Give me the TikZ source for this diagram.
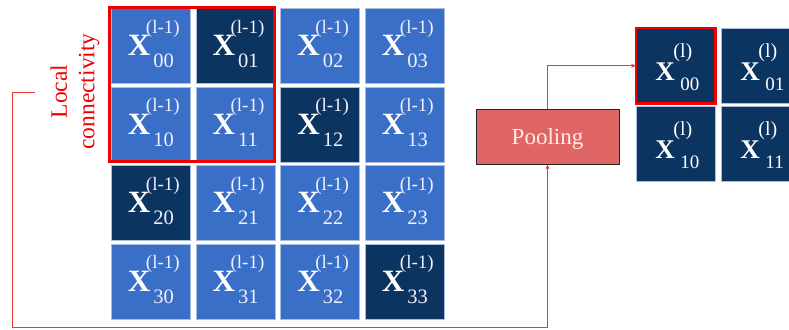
\documentclass[tikz,border=0pt]{standalone}
\usepackage{fontspec}
\setmainfont{Liberation Serif}
\usetikzlibrary{calc,arrows.meta}
\definecolor{lb}{HTML}{3A6FC7}
\definecolor{db}{HTML}{0B3560}
\definecolor{pl}{HTML}{E06666}
\definecolor{rl}{HTML}{E8393A}
\definecolor{rb}{HTML}{F00000}
\definecolor{ce}{HTML}{A9BDE0}
\newcommand\fs[1]{\fontsize{#1}{#1}\selectfont}
\newcommand\inlab[2]{%
  \node[inx] (#1x) at ($(#1.center)+(-23,10)$) {X};
  \node[insup] (#1p) at ($(#1.center)+(-5,-12.4)$) {(l-1)};
  \node[insub] (#1s) at ($(#1.center)+(2.5,22)$) {#2};}
\newcommand\outlab[2]{%
  \node[outx] (#1x) at ($(#1.center)+(-20.5,15)$) {X};
  \node[outsup] (#1p) at ($(#1.center)+(-2.5,-8.5)$) {(l)};
  \node[outsub] (#1s) at ($(#1.center)+(4.5,25)$) {#2};}
\begin{document}
\begin{tikzpicture}[x=1pt,y=-1pt,
  cellbox/.style={draw=ce,line width=0.5pt,minimum width=79pt,minimum height=75pt,inner sep=0pt,anchor=north west},
  litecell/.style={cellbox,fill=lb},
  darkcell/.style={cellbox,fill=db},
  txt/.style={text=white,inner sep=0pt,anchor=base west},
  inx/.style={txt,font=\fs{31}\bfseries},
  insup/.style={txt,text=white!94!blue,font=\fs{19}},
  insub/.style={txt,text=white!94!blue,font=\fs{20.5}},
  outx/.style={txt,font=\fs{27}\bfseries},
  outsup/.style={txt,font=\fs{20}},
  outsub/.style={txt,font=\fs{19}},
  conn/.style={draw=rl,line width=0.8pt},
  arr/.style={-{Stealth[length=5pt,width=4pt]}},
  poolbox/.style={draw=black!85,line width=0.8pt,fill=pl,minimum width=143pt,minimum height=55pt,text depth=0pt,text=white!92!red,font=\fs{23}},
  hilite/.style={draw=rb,line width=3pt},
  lclabel/.style={text=rb,font=\fs{23.5},align=center,rotate=90,inner sep=0pt}
]
\path[use as bounding box,clip] (0,0) rectangle (789,329);
% input grid
\node[litecell] (a00) at (111,8) {};
\node[darkcell] (a01) at (195.67,8) {};
\node[litecell] (a02) at (280.33,8) {};
\node[litecell] (a03) at (365,8) {};
\node[litecell] (a10) at (111,86.5) {};
\node[litecell] (a11) at (195.67,86.5) {};
\node[darkcell] (a12) at (280.33,86.5) {};
\node[litecell] (a13) at (365,86.5) {};
\node[darkcell] (a20) at (111,165) {};
\node[litecell] (a21) at (195.67,165) {};
\node[litecell] (a22) at (280.33,165) {};
\node[litecell] (a23) at (365,165) {};
\node[litecell] (a30) at (111,243.5) {};
\node[litecell] (a31) at (195.67,243.5) {};
\node[litecell] (a32) at (280.33,243.5) {};
\node[darkcell] (a33) at (365,243.5) {};
\inlab{a00}{00}\inlab{a01}{01}\inlab{a02}{02}\inlab{a03}{03}
\inlab{a10}{10}\inlab{a11}{11}\inlab{a12}{12}\inlab{a13}{13}
\inlab{a20}{20}\inlab{a21}{21}\inlab{a22}{22}\inlab{a23}{23}
\inlab{a30}{30}\inlab{a31}{31}\inlab{a32}{32}\inlab{a33}{33}
\draw[hilite] ($(a00.north west)+(-1.5,-0.5)$) rectangle ($(a11.south east)+(-1,-1)$);
% output grid
\node[darkcell] (b00) at (636,28) {};
\node[darkcell] (b01) at (721,28) {};
\node[darkcell] (b10) at (636,106) {};
\node[darkcell] (b11) at (721,106) {};
\outlab{b00}{00}\outlab{b01}{01}\outlab{b10}{10}\outlab{b11}{11}
\draw[hilite,line width=2.5pt] (b00.north west) rectangle (b00.south east);
% pooling
\node[poolbox] (pool) at (547.5,136.5) {Pooling};
% label
\node[lclabel] (lc) at (75,91.5) {Local\\[4pt]connectivity};
% connectors
\coordinate (s) at (35,92);
\coordinate (lbc) at (12,327);
\draw[conn,arr] (s) -| (lbc) -| (pool.south);
\draw[conn,arr] (pool.north) |- (b00.west);
\end{tikzpicture}
\end{document}
